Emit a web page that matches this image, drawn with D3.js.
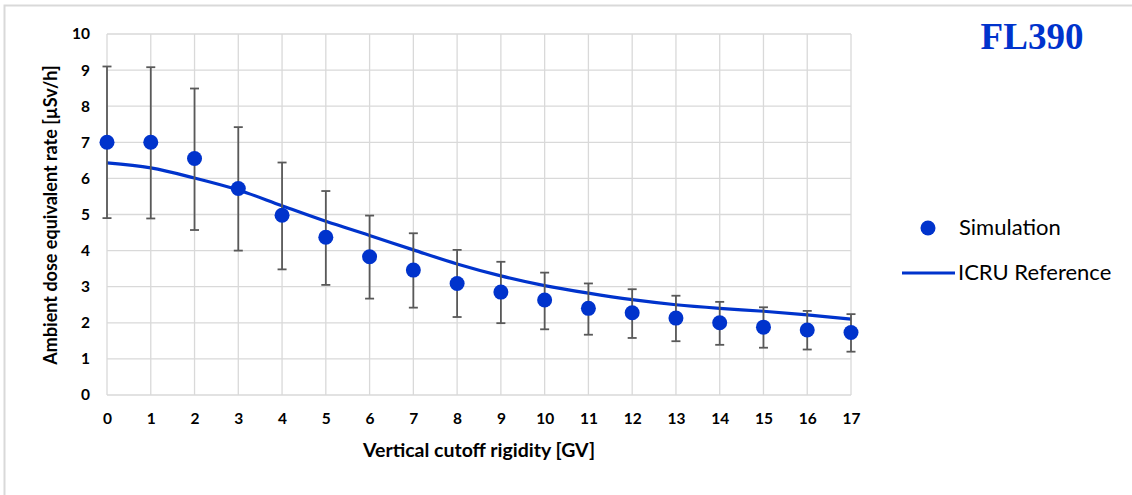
<!DOCTYPE html>
<meta charset="utf-8">
<style>
  body { margin: 0; background: #fff; }
  .chart text { font-family: Lato, "Open Sans", sans-serif; fill: #000; }
  .tick text { font-weight: bold; font-size: 15.5px; }
</style>
<body>
<svg class="chart"></svg>
<script src="https://d3js.org/d3.v7.min.js"></script>
<script>
  // data
  var rigidity = [0, 1, 2, 3, 4, 5, 6, 7, 8, 9, 10, 11, 12, 13, 14, 15, 16, 17];
  var simulation = [7.0, 7.0, 6.55, 5.72, 4.98, 4.37, 3.83, 3.46, 3.09, 2.85, 2.63, 2.40, 2.28, 2.13, 2.00, 1.88, 1.80, 1.73];
  var errUpper = [9.1, 9.08, 8.49, 7.42, 6.44, 5.65, 4.97, 4.48, 4.02, 3.69, 3.39, 3.09, 2.93, 2.75, 2.58, 2.43, 2.33, 2.24];
  var errLower = [4.9, 4.89, 4.57, 4.0, 3.48, 3.05, 2.67, 2.42, 2.16, 1.99, 1.82, 1.67, 1.58, 1.49, 1.39, 1.31, 1.26, 1.20];
  var icru = [6.43, 6.29, 6.01, 5.68, 5.24, 4.81, 4.42, 4.02, 3.63, 3.30, 3.03, 2.82, 2.64, 2.50, 2.40, 2.32, 2.22, 2.10];
  var yTicks = [0, 1, 2, 3, 4, 5, 6, 7, 8, 9, 10];

  var w = 1132, h = 495;
  var blue = "#0033cc", grid = "#d9d9d9";

  var svg = d3.select(".chart").attr("width", w).attr("height", h);

  // outer frame (only top/left visible in the picture)
  svg.append("rect")
    .attr("x", 4.5).attr("y", 5.5)
    .attr("width", w + 10).attr("height", h + 10)
    .attr("fill", "none").attr("stroke", grid).attr("stroke-width", 2);

  var x = d3.scaleLinear().domain([0, 17]).range([107, 851]);
  var y = d3.scaleLinear().domain([0, 10]).range([395, 34]);

  // grid
  svg.append("g").selectAll("line").data(rigidity).enter().append("line")
    .attr("x1", function (d) { return x(d); }).attr("x2", function (d) { return x(d); })
    .attr("y1", y(0)).attr("y2", y(10))
    .attr("stroke", grid).attr("stroke-width", 1.3);
  svg.append("g").selectAll("line").data(yTicks).enter().append("line")
    .attr("x1", x(0)).attr("x2", x(17))
    .attr("y1", function (d) { return y(d); }).attr("y2", function (d) { return y(d); })
    .attr("stroke", grid).attr("stroke-width", 1.3);

  // axes (labels only)
  var xAxis = svg.append("g").attr("transform", "translate(0," + y(0) + ")")
    .call(d3.axisBottom(x).tickValues(rigidity).tickSize(0).tickPadding(18).tickFormat(d3.format("d")));
  xAxis.select(".domain").remove();

  var yAxis = svg.append("g").attr("transform", "translate(" + x(0) + ",0)")
    .call(d3.axisLeft(y).tickValues(yTicks).tickSize(0).tickPadding(17).tickFormat(d3.format("d")));
  yAxis.select(".domain").remove();

  // axis titles
  svg.append("text")
    .attr("x", 479).attr("y", 457)
    .attr("text-anchor", "middle")
    .style("font-weight", "bold").style("font-size", "19.5px")
    .text("Vertical cutoff rigidity [GV]");

  svg.append("text")
    .attr("transform", "translate(57,215) rotate(-90)")
    .attr("text-anchor", "middle")
    .style("font-weight", "bold").style("font-size", "18px")
    .text("Ambient dose equivalent rate [µSv/h]");

  // ICRU reference line (smoothed like the spreadsheet line)
  var line = d3.line()
    .x(function (d, i) { return x(rigidity[i]); })
    .y(function (d) { return y(d); })
    .curve(d3.curveCatmullRom.alpha(0.5));

  svg.append("path")
    .datum(icru)
    .attr("d", line)
    .attr("fill", "none").attr("stroke", blue).attr("stroke-width", 3.2);

  // error bars
  var eb = svg.append("g").attr("stroke", "#595959").attr("stroke-width", 1.8);
  rigidity.forEach(function (r, i) {
    eb.append("line")
      .attr("x1", x(r)).attr("x2", x(r))
      .attr("y1", y(errUpper[i])).attr("y2", y(errLower[i]));
    eb.append("line")
      .attr("x1", x(r) - 4.5).attr("x2", x(r) + 4.5)
      .attr("y1", y(errUpper[i])).attr("y2", y(errUpper[i]));
    eb.append("line")
      .attr("x1", x(r) - 4.5).attr("x2", x(r) + 4.5)
      .attr("y1", y(errLower[i])).attr("y2", y(errLower[i]));
  });

  // simulation points
  svg.append("g").selectAll("circle").data(simulation).enter().append("circle")
    .attr("cx", function (d, i) { return x(rigidity[i]); })
    .attr("cy", function (d) { return y(d); })
    .attr("r", 7.5)
    .attr("fill", blue);

  // title
  svg.append("text")
    .attr("x", 1032).attr("y", 49)
    .attr("text-anchor", "middle")
    .style("font-family", "'Liberation Serif', 'Times New Roman', serif")
    .style("font-weight", "bold").style("font-size", "37px")
    .style("fill", blue)
    .text("FL390");

  // legend
  svg.append("circle").attr("cx", 928).attr("cy", 228).attr("r", 7.5).attr("fill", blue);
  svg.append("text").attr("x", 959).attr("y", 235)
    .style("font-size", "22px").text("Simulation");
  svg.append("line").attr("x1", 902).attr("x2", 955).attr("y1", 273).attr("y2", 273)
    .attr("stroke", blue).attr("stroke-width", 3.2);
  svg.append("text").attr("x", 958).attr("y", 280)
    .style("font-size", "22px").text("ICRU Reference");
</script>
</body>
